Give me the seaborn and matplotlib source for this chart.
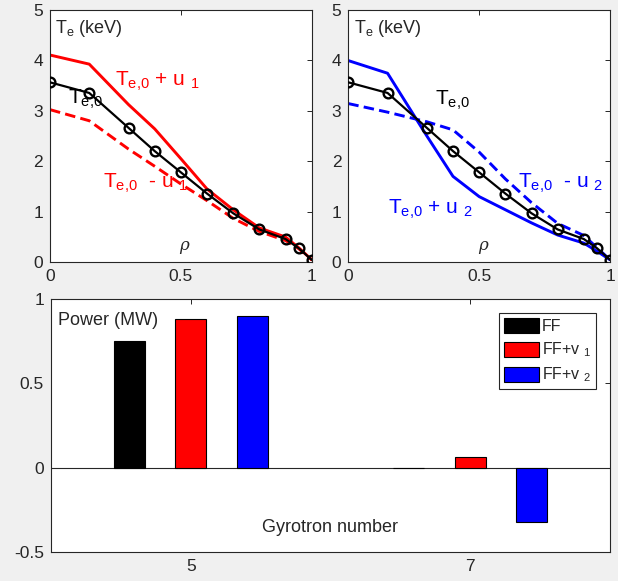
import matplotlib
matplotlib.use('Agg')
import numpy as np
import pandas as pd
import matplotlib.pyplot as plt
from matplotlib.patches import Patch
import seaborn as sns

# profile data (rho grid shared by all curves)
rho = [0, 0.15, 0.3, 0.4, 0.5, 0.6, 0.7, 0.8, 0.9, 0.95, 1.0]
te0 = [3.56, 3.35, 2.66, 2.20, 1.78, 1.36, 0.97, 0.65, 0.46, 0.28, 0.05]
te_plus_u1 = [4.10, 3.92, 3.12, 2.64, 2.05, 1.45, 1.04, 0.68, 0.50, 0.29, 0.05]
te_minus_u1 = [3.02, 2.80, 2.24, 1.90, 1.55, 1.22, 0.87, 0.61, 0.43, 0.27, 0.05]
te_plus_u2 = [3.99, 3.74, 2.50, 1.70, 1.30, 1.04, 0.78, 0.54, 0.38, 0.22, 0.05]
te_minus_u2 = [3.14, 2.97, 2.78, 2.62, 2.18, 1.65, 1.18, 0.77, 0.53, 0.29, 0.05]

# gyrotron powers
gyrotron = [5, 7]
power_ff = [0.753, -0.003]
power_v1 = [0.883, 0.063]
power_v2 = [0.901, -0.318]
case_labels = ['FF', 'FF+v $_1$', 'FF+v $_2$']
case_colors = ['#000000', '#ff0000', '#0000ff']

sns.set_style('white')
plt.rcParams['font.family'] = ['Liberation Sans', 'DejaVu Sans']
plt.rcParams['mathtext.fontset'] = 'custom'
plt.rcParams['mathtext.rm'] = 'Liberation Sans'
plt.rcParams['mathtext.it'] = 'Liberation Sans:italic'
plt.rcParams['mathtext.default'] = 'regular'

GRAY = '#262626'
fig = plt.figure(figsize=(6.18, 5.81), dpi=100, facecolor='#f0f0f0')
ax1 = fig.add_axes([0.0809, 0.5485, 0.4235, 0.4351])
ax2 = fig.add_axes([0.5636, 0.5485, 0.4235, 0.4351])
ax3 = fig.add_axes([0.0825, 0.0494, 0.9045, 0.4360])


def style_axes(ax):
    ax.set_facecolor('white')
    for s in ax.spines.values():
        s.set_visible(True)
        s.set_color(GRAY)
        s.set_linewidth(0.8)
    ax.tick_params(direction='in', top=True, right=True, length=3.5, width=0.7,
                   colors=GRAY, labelsize=12.5, pad=5)
    ax.set_xlabel('')
    ax.set_ylabel('')


dash = (0, (3.6, 1.8))
base_kw = dict(color='black', marker='o', markersize=7, markerfacecolor='none',
               markeredgecolor='black', markeredgewidth=1.7, linewidth=1.6)

for ax, plus, minus, col in [(ax1, te_plus_u1, te_minus_u1, '#ff0000'),
                             (ax2, te_plus_u2, te_minus_u2, '#0000ff')]:
    sns.lineplot(x=rho, y=te0, ax=ax, zorder=3, **base_kw)
    sns.lineplot(x=rho, y=plus, ax=ax, color=col, linewidth=2.1, zorder=2)
    sns.lineplot(x=rho, y=minus, ax=ax, color=col, linewidth=2.1,
                 linestyle=dash, zorder=2)
    ax.set_xlim(0, 1)
    ax.set_ylim(0, 5)
    ax.set_xticks([0, 0.5, 1])
    ax.set_xticklabels(['0', '0.5', '1'])
    ax.set_yticks([0, 1, 2, 3, 4, 5])
    style_axes(ax)
    ax.text(0.02, 4.53, 'T$_e$ (keV)', fontsize=13, color=GRAY, va='baseline')
    ax.text(0.495, 0.34, 'ρ', fontsize=12, color=GRAY, va='center',
            family='DejaVu Serif', style='italic')

te0_lbl = 'T$_{e{,}0}$'
ax1.text(0.069, 3.14, te0_lbl, fontsize=15, color='black', va='baseline', zorder=5)
ax1.text(0.248, 3.50, te0_lbl + ' + u $_1$', fontsize=15, color='#ff0000', va='baseline')
ax1.text(0.203, 1.47, te0_lbl + '  - u $_1$', fontsize=15, color='#ff0000', va='baseline')
ax2.text(0.331, 3.11, te0_lbl, fontsize=15, color='black', va='baseline')
ax2.text(0.650, 1.47, te0_lbl + '  - u $_2$', fontsize=15, color='#0000ff', va='baseline')
ax2.text(0.153, 0.97, te0_lbl + ' + u $_2$', fontsize=15, color='#0000ff', va='baseline')

# bar chart
df = pd.DataFrame({
    'gyrotron': gyrotron * 3,
    'power': power_ff + power_v1 + power_v2,
    'case': [case_labels[0]] * 2 + [case_labels[1]] * 2 + [case_labels[2]] * 2,
})
sns.barplot(data=df, x='gyrotron', y='power', hue='case', hue_order=case_labels,
            palette=case_colors, native_scale=True, width=0.66, gap=0.49,
            saturation=1, edgecolor='black', linewidth=0.8, legend=False,
            errorbar=None, ax=ax3)
ax3.axhline(0, color=GRAY, linewidth=0.8, zorder=0.5)
ax3.set_xlim(4, 8)
ax3.set_ylim(-0.5, 1)
ax3.set_xticks([5, 7])
ax3.set_xticklabels(['5', '7'])
ax3.set_yticks([-0.5, 0, 0.5, 1])
ax3.set_yticklabels(['-0.5', '0', '0.5', '1'])
style_axes(ax3)
ax3.text(4.052, 0.848, 'Power (MW)', fontsize=13, color=GRAY, va='baseline')
ax3.text(6.0, -0.381, 'Gyrotron number', fontsize=13, color=GRAY, va='baseline', ha='center')

handles = [Patch(facecolor=c, edgecolor='black', linewidth=0.8) for c in case_colors]
leg = ax3.legend(handles, case_labels, loc='upper right', fontsize=11.5,
                 frameon=True, fancybox=False, framealpha=1, edgecolor=GRAY,
                 handlelength=2.2, handleheight=1.1, handletextpad=0.15,
                 labelspacing=0.4, borderpad=0.3, borderaxespad=0.9)
leg.get_frame().set_linewidth(0.8)

fig.savefig('out.png', dpi=100, facecolor=fig.get_facecolor())
